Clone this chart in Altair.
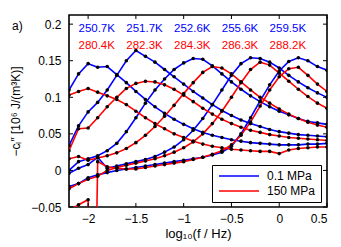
import altair as alt
import pandas as pd

FONT = "Liberation Sans"

# frequency grid, log10(f / Hz)
log_f = [-2.2, -2.1, -2.0, -1.9, -1.8, -1.7, -1.6, -1.5, -1.4, -1.3, -1.2, -1.1, -1.0, -0.9,
         -0.8, -0.7, -0.6, -0.5, -0.4, -0.3, -0.2, -0.1, 0.0, 0.1, 0.2, 0.3, 0.4, 0.5]

# 0.1 MPa (blue)
b_250_7 = [0.110, 0.132, 0.146, 0.141, 0.142, 0.131, 0.120, 0.108, 0.097, 0.087, 0.078, 0.070, 0.063, 0.057,
           0.052, 0.048, 0.045, 0.042, 0.040, 0.038, 0.037, 0.036, 0.035, 0.035, 0.035, 0.036, 0.036, 0.037]
b_251_7 = [0.034, 0.061, 0.080, 0.093, 0.110, 0.130, 0.150, 0.164, 0.156, 0.148, 0.138, 0.128, 0.118, 0.108,
           0.099, 0.090, 0.082, 0.075, 0.069, 0.064, 0.060, 0.056, 0.053, 0.051, 0.049, 0.048, 0.047, 0.046]
b_252_6 = [0.000, 0.012, 0.016, 0.020, 0.027, 0.037, 0.053, 0.072, 0.092, 0.110, 0.125, 0.138, 0.147, 0.153,
           0.152, 0.143, 0.132, 0.121, 0.111, 0.102, 0.094, 0.087, 0.081, 0.076, 0.071, 0.067, 0.065, 0.063]
b_255_6 = [-0.004, 0.003, 0.008, 0.018, 0.003, 0.006, 0.009, 0.012, 0.015, 0.019, 0.025, 0.032, 0.042, 0.055,
           0.071, 0.090, 0.110, 0.130, 0.146, 0.154, 0.153, 0.148, 0.140, 0.130, 0.121, 0.113, 0.106, 0.100]
b_259_5 = [-0.022, -0.018, -0.010, -0.006, -0.003, 0.000, 0.002, 0.004, 0.006, 0.008, 0.010, 0.012, 0.014, 0.016,
           0.018, 0.021, 0.025, 0.033, 0.050, 0.072, 0.095, 0.117, 0.136, 0.149, 0.154, 0.150, 0.142, 0.137]

# 150 MPa (red)
r_280_4 = [0.103, 0.108, 0.112, 0.107, 0.102, 0.097, 0.090, 0.081, 0.072, 0.064, 0.057, 0.050, 0.045, 0.040,
           0.036, 0.033, 0.031, 0.029, 0.028, 0.027, 0.026, 0.026, 0.023, 0.028, 0.030, 0.031, 0.032, 0.032]
r_282_3 = [0.027, 0.057, 0.058, 0.072, 0.087, 0.100, 0.112, 0.119, 0.122, 0.121, 0.117, 0.111, 0.103, 0.094,
           0.085, 0.077, 0.070, 0.064, 0.059, 0.055, 0.052, 0.049, 0.047, 0.045, 0.044, 0.043, 0.042, 0.041]
r_284_3 = [0.016, 0.019, 0.014, 0.017, 0.020, 0.024, 0.030, 0.038, 0.048, 0.060, 0.074, 0.089, 0.105, 0.120,
           0.134, 0.142, 0.140, 0.132, 0.121, 0.110, 0.100, 0.092, 0.084, 0.077, 0.071, 0.066, 0.062, 0.059]
r_286_3 = [-0.025, -0.018, -0.012, -0.008, 0.000, 0.004, 0.007, 0.010, 0.013, 0.016, 0.020, 0.025, 0.031, 0.039,
           0.050, 0.064, 0.081, 0.100, 0.120, 0.138, 0.148, 0.144, 0.133, 0.122, 0.111, 0.101, 0.092, 0.085]
r_288_2 = [-0.055, -0.047, -0.040, 0.012, 0.005, 0.003, 0.002, 0.002, 0.004, 0.006, 0.008, 0.010, 0.012, 0.015,
           0.018, 0.022, 0.027, 0.035, 0.048, 0.066, 0.088, 0.110, 0.128, 0.139, 0.141, 0.130, 0.118, 0.108]
# single outlier point of the 288.2 K run (far below the axis)
r_288_2_spike_x = [-1.95]
r_288_2_spike_y = [-0.40]

blue_temps = ["250.7K", "251.7K", "252.6K", "255.6K", "259.5K"]
red_temps = ["280.4K", "282.3K", "284.3K", "286.3K", "288.2K"]
label_x = [-1.91, -1.41, -0.91, -0.41, 0.09]
blue_label_y = 0.193
red_label_y = 0.170

x_ticks = [-2, -1.5, -1, -0.5, 0, 0.5]
y_ticks = [-0.05, 0, 0.05, 0.1, 0.15, 0.2]
pressures = ["0.1 MPa", "150 MPa"]
colors = ["#0000ff", "#ff0000"]

W, H = 258, 192

series = [
    ("0.1 MPa", "250.7K", log_f, b_250_7),
    ("0.1 MPa", "251.7K", log_f, b_251_7),
    ("0.1 MPa", "252.6K", log_f, b_252_6),
    ("0.1 MPa", "255.6K", log_f, b_255_6),
    ("0.1 MPa", "259.5K", log_f, b_259_5),
    ("150 MPa", "280.4K", log_f, r_280_4),
    ("150 MPa", "282.3K", log_f, r_282_3),
    ("150 MPa", "284.3K", log_f, r_284_3),
    ("150 MPa", "286.3K", log_f, r_286_3),
    ("150 MPa", "288.2K", log_f + r_288_2_spike_x, r_288_2 + r_288_2_spike_y),
]
rows = []
for i, (p, t, xs, ys) in enumerate(series):
    for x, y in zip(xs, ys):
        rows.append({"pressure": p, "temp": t, "order": i, "x": x, "y": y})
df = pd.DataFrame(rows)

xscale = alt.Scale(domain=[-2.2, 0.5], nice=False, zero=False)
yscale = alt.Scale(domain=[-0.05, 0.2125], nice=False, zero=False)

X = alt.X("x:Q", scale=xscale,
          axis=alt.Axis(values=x_ticks, format="~g", ticks=False, domain=False, grid=False,
                        labelPadding=6, title="log₁₀(f / Hz)", titlePadding=3))
Y = alt.Y("y:Q", scale=yscale,
          axis=alt.Axis(values=y_ticks, format="~g", ticks=False, domain=False, grid=False,
                        labelPadding=8, title="−cₗ″ [10⁶ J/(m³K)]", titlePadding=8,
                        titleFontSize=12))

lines = alt.Chart(df).mark_line(strokeWidth=1.6, clip=True).encode(
    x=X, y=Y, detail="temp:N",
    color=alt.Color("pressure:N", scale=alt.Scale(domain=pressures, range=colors),
                    legend=alt.Legend(title=None, orient="none", legendX=143, legendY=150,
                                      fillColor="white", strokeColor="black", padding=5,
                                      symbolType="M-5,0H5", symbolSize=64, symbolStrokeWidth=1.6,
                                      symbolOffset=16, labelOffset=22, labelFontSize=12,
                                      labelFont=FONT, labelColor="black", rowPadding=3)),
)

dots = alt.Chart(df).mark_circle(size=13, color="black", opacity=1, clip=True).encode(x=X, y=Y)

lab_blue = pd.DataFrame({"x": label_x, "y": [blue_label_y] * 5, "temp": blue_temps})
lab_red = pd.DataFrame({"x": label_x, "y": [red_label_y] * 5, "temp": red_temps})
txt_blue = alt.Chart(lab_blue).mark_text(color="#0000ff", fontSize=11.5, font=FONT).encode(
    x=X, y=Y, text="temp:N")
txt_red = alt.Chart(lab_red).mark_text(color="#ff0000", fontSize=11.5, font=FONT).encode(
    x=X, y=Y, text="temp:N")

xt = pd.DataFrame({"x": x_ticks})
yt = pd.DataFrame({"y": y_ticks})
tick_b = alt.Chart(xt).mark_rule(color="black", strokeWidth=1).encode(x=X, y=alt.value(H), y2=alt.value(H - 4))
tick_t = alt.Chart(xt).mark_rule(color="black", strokeWidth=1).encode(x=X, y=alt.value(0), y2=alt.value(4))
tick_l = alt.Chart(yt).mark_rule(color="black", strokeWidth=1).encode(y=Y, x=alt.value(0), x2=alt.value(4))
tick_r = alt.Chart(yt).mark_rule(color="black", strokeWidth=1).encode(y=Y, x=alt.value(W), x2=alt.value(W - 4))

chart = alt.layer(lines, dots, txt_blue, txt_red, tick_b, tick_t, tick_l, tick_r).properties(
    width=W, height=H,
    autosize=alt.AutoSizeParams(type="none"),
    padding={"left": 61, "top": 7, "right": 6, "bottom": 40},
    title=alt.TitleParams("a)", anchor="start", frame="group", dx=-57, dy=18, offset=0,
                          fontSize=12, font=FONT, fontWeight="normal", color="black"),
).configure_view(stroke="black", strokeWidth=1.6).configure_axis(
    labelFont=FONT, labelFontSize=12, labelColor="black",
    titleFont=FONT, titleFontSize=13, titleFontWeight="normal", titleColor="black",
)

chart.save("out.html", embed_options={"renderer": "svg", "actions": False})
